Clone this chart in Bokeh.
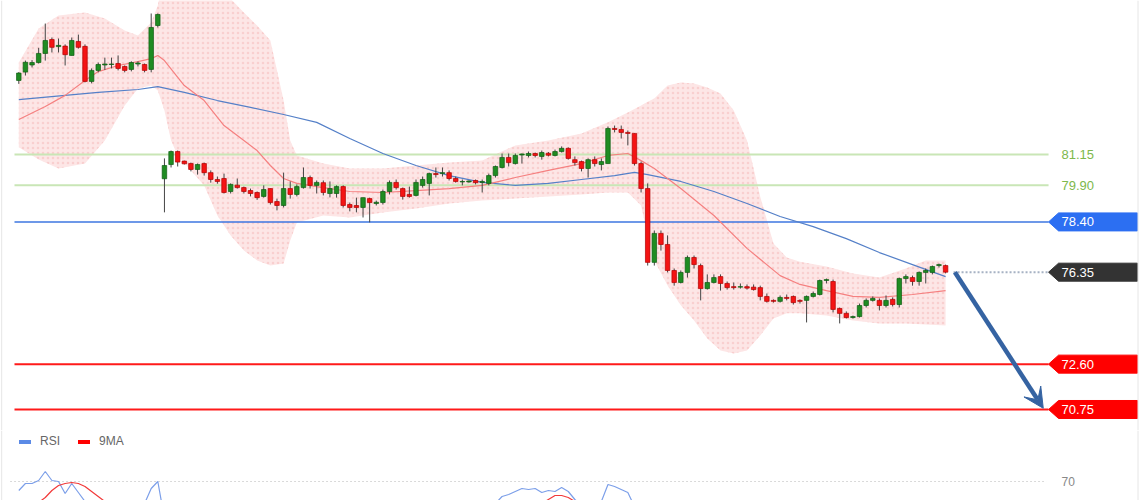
from bokeh.plotting import figure
from bokeh.layouts import column
from bokeh.models import Range1d, ColumnDataSource, Arrow, VeeHead, Legend, LegendItem, Span
from bokeh.core.properties import value
from bokeh.embed import file_html
from bokeh.resources import INLINE

# ---------------- data ----------------
opens = [84.17, 84.51, 84.80, 84.90, 85.27, 85.84, 85.55, 85.57, 85.19, 85.76,
         85.56, 84.13, 84.58, 84.80, 84.82, 84.86, 84.74, 84.62, 84.86, 84.82,
         84.62, 86.41, 80.16, 80.74, 81.27, 80.88, 80.78, 80.54, 80.78, 80.41,
         80.13, 80.17, 79.64, 79.90, 79.80, 79.68, 79.60, 79.44, 79.76, 79.23,
         79.07, 79.76, 79.52, 79.80, 80.21, 79.89, 80.00, 79.56, 79.56, 79.84,
         79.11, 79.07, 78.99, 79.35, 79.15, 79.19, 79.64, 80.01, 79.76, 79.52,
         79.48, 79.89, 79.97, 80.37, 80.37, 80.41, 80.17, 80.05, 80.05, 80.09,
         80.01, 79.97, 80.29, 80.62, 81.03, 80.78, 81.15, 81.11, 81.19, 81.07,
         81.20, 81.11, 81.27, 81.40, 80.94, 80.86, 80.58, 80.94, 80.74, 80.78,
         82.21, 82.17, 82.05, 82.01, 80.78, 79.76, 76.75, 77.93, 77.48, 76.42,
         75.93, 76.34, 76.95, 76.62, 75.68, 75.93, 76.17, 75.89, 75.76, 75.74,
         75.76, 75.74, 75.72, 75.36, 75.20, 75.16, 75.32, 75.36, 75.20, 75.20,
         75.36, 75.44, 76.01, 75.97, 74.87, 74.67, 74.50, 74.54, 74.99, 75.20,
         75.20, 74.99, 75.24, 75.03, 76.09, 76.13, 75.97, 76.34, 76.34, 76.62,
         76.62]
highs = [84.51, 84.98, 85.00, 85.50, 86.49, 85.92, 85.88, 85.64, 85.92, 86.04,
         85.64, 84.66, 84.90, 85.10, 85.10, 85.19, 84.78, 84.95, 84.95, 84.86,
         86.90, 86.90, 80.99, 81.31, 81.31, 80.90, 80.82, 80.78, 80.82, 80.50,
         80.25, 80.37, 79.97, 80.17, 79.84, 79.76, 79.64, 79.89, 79.76, 79.35,
         80.41, 80.05, 79.93, 80.62, 80.29, 80.09, 80.09, 80.05, 79.89, 79.89,
         79.19, 79.39, 79.39, 79.39, 79.27, 79.72, 80.09, 80.13, 79.80, 79.84,
         80.13, 80.25, 80.41, 80.62, 80.62, 80.50, 80.25, 80.13, 80.09, 80.13,
         80.13, 80.37, 80.70, 81.19, 81.19, 81.19, 81.19, 81.27, 81.23, 81.31,
         81.25, 81.35, 81.48, 81.44, 81.07, 80.90, 80.99, 81.07, 80.99, 82.29,
         82.33, 82.33, 82.13, 82.01, 80.86, 79.97, 78.05, 78.05, 77.85, 76.50,
         76.42, 77.03, 77.03, 76.70, 76.26, 76.26, 76.26, 75.97, 75.93, 75.89,
         75.85, 75.85, 75.80, 75.48, 75.24, 75.40, 75.44, 75.40, 75.24, 75.40,
         75.56, 76.05, 76.09, 76.05, 74.91, 74.75, 74.58, 75.07, 75.28, 75.36,
         75.28, 75.40, 75.32, 76.13, 76.26, 76.21, 76.38, 76.50, 76.62, 76.70,
         76.66]
lows = [84.03, 84.37, 84.70, 84.86, 84.98, 85.31, 85.31, 84.78, 85.19, 85.47,
        84.09, 84.05, 84.50, 84.60, 84.66, 84.58, 84.50, 84.54, 84.74, 84.50,
        84.50, 86.33, 78.79, 80.62, 80.66, 80.74, 80.46, 80.33, 80.29, 80.00,
        79.96, 79.56, 79.56, 79.76, 79.56, 79.44, 79.30, 79.39, 79.11, 78.87,
        78.99, 79.35, 79.44, 79.76, 79.76, 79.56, 79.48, 79.40, 79.39, 78.99,
        78.83, 78.79, 78.58, 78.38, 79.07, 79.11, 79.52, 79.72, 79.31, 79.39,
        79.44, 79.80, 79.48, 80.21, 80.25, 80.09, 80.00, 79.89, 80.00, 79.93,
        79.60, 79.89, 80.21, 80.58, 80.66, 80.74, 80.78, 81.03, 81.03, 80.94,
        81.07, 81.07, 81.23, 80.94, 80.70, 80.46, 80.21, 80.66, 80.50, 80.78,
        82.05, 81.80, 81.52, 80.70, 79.60, 76.62, 76.62, 77.23, 76.34, 75.80,
        75.89, 76.13, 76.50, 75.20, 75.64, 75.89, 75.60, 75.64, 75.64, 75.68,
        75.64, 75.60, 75.20, 75.11, 75.11, 75.11, 75.20, 75.03, 75.07, 74.30,
        75.32, 75.40, 75.89, 74.71, 74.26, 74.46, 74.46, 74.50, 74.91, 75.15,
        74.79, 74.91, 74.95, 74.91, 75.89, 75.80, 75.80, 75.89, 76.26, 76.54,
        76.30]
closes = [84.47, 84.91, 84.90, 85.27, 85.80, 85.52, 85.60, 85.22, 85.80, 85.52,
          84.13, 84.58, 84.82, 84.84, 84.84, 84.66, 84.58, 84.90, 84.88, 84.58,
          86.33, 86.86, 80.70, 81.27, 80.84, 80.77, 80.54, 80.74, 80.41, 80.13,
          80.05, 79.60, 79.93, 79.80, 79.64, 79.56, 79.39, 79.72, 79.19, 79.07,
          79.76, 79.52, 79.84, 80.21, 79.89, 80.01, 79.60, 79.76, 79.84, 79.07,
          78.99, 78.99, 79.39, 79.19, 79.20, 79.64, 80.01, 79.80, 79.44, 79.44,
          80.01, 80.13, 80.37, 80.33, 80.41, 80.17, 80.05, 80.05, 80.07, 80.00,
          80.05, 80.29, 80.66, 81.03, 80.82, 81.11, 81.17, 81.19, 81.11, 81.23,
          81.12, 81.27, 81.40, 80.99, 80.82, 80.58, 80.94, 80.78, 80.86, 82.21,
          82.17, 82.05, 82.01, 80.78, 79.76, 76.75, 77.93, 77.48, 76.42, 75.93,
          76.34, 76.95, 76.66, 75.68, 75.93, 76.13, 75.89, 75.72, 75.72, 75.76,
          75.70, 75.64, 75.36, 75.16, 75.18, 75.32, 75.30, 75.11, 75.16, 75.36,
          75.48, 76.01, 76.05, 74.83, 74.67, 74.50, 74.54, 74.99, 75.20, 75.28,
          74.99, 75.20, 75.03, 76.09, 76.17, 75.97, 76.34, 76.42, 76.58, 76.66,
          76.35]

band_i = [0, 3, 6, 10, 13, 16, 18, 20, 21, 22, 23, 24, 26, 28, 30, 32, 34, 36, 38, 40,
          41, 42, 46, 50, 55, 60, 65, 70, 75, 80, 85, 89, 92, 94, 95, 96, 98, 100, 102,
          104, 106, 108, 110, 112, 114, 116, 118, 122, 126, 130, 134, 137, 140]
band_upper = [84.90, 86.29, 86.82, 86.94, 86.70, 86.21, 86.00, 86.53, 87.23, 88.60,
              89.20, 89.60, 90.00, 89.80, 89.00, 87.50, 86.94, 86.41, 85.80, 83.35,
              81.72, 81.11, 80.78, 80.58, 80.58, 80.70, 80.82, 80.90, 81.52, 81.72,
              82.01, 82.46, 82.86, 83.15, 83.30, 83.43, 83.96, 84.09, 84.05,
              83.88, 83.64, 82.94, 81.72, 79.43, 77.52, 76.95, 76.78, 76.58, 76.30,
              76.13, 76.50, 76.83, 76.83]
band_lower = [81.44, 80.95, 80.58, 80.78, 81.72, 83.15, 83.84, 83.96, 83.76, 82.94,
              81.72, 81.11, 80.50, 79.89, 78.66, 77.85, 77.23, 76.83, 76.62, 76.70,
              77.64, 78.38, 78.66, 78.58, 78.78, 78.95, 79.15, 79.27, 79.35, 79.44,
              79.52, 79.60, 79.60, 79.07, 77.85, 76.83, 75.81, 75.00, 74.38,
              73.65, 73.16, 73.03, 73.16, 73.77, 74.46, 74.67, 74.67, 74.58, 74.38,
              74.26, 74.26, 74.22, 74.18]

ma20_i = [0, 4, 7, 10, 12, 15, 18, 20, 21, 22, 25, 28, 31, 34, 36, 38, 40, 42, 45, 50,
          55, 60, 65, 70, 75, 80, 85, 89, 92, 94, 96, 100, 105, 110, 115, 118, 122, 126,
          130, 135, 140]
ma20_v = [82.58, 83.11, 83.56, 84.17, 84.53, 84.78, 84.94, 85.06, 85.19, 84.98, 83.96,
          83.35, 82.33, 81.72, 81.31, 80.70, 80.17, 79.97, 79.84, 79.64, 79.60, 79.68,
          79.76, 79.89, 80.21, 80.50, 80.78, 81.11, 81.19, 80.90, 80.58, 79.76, 78.66,
          77.32, 76.21, 75.85, 75.60, 75.36, 75.32, 75.44, 75.60]

ma100_i = [0, 7, 12, 18, 21, 25, 30, 35, 40, 45, 50, 55, 60, 65, 70, 75, 80, 85, 90,
           93, 95, 100, 105, 110, 115, 120, 125, 130, 135, 140]
ma100_v = [83.39, 83.56, 83.68, 83.80, 83.92, 83.68, 83.35, 83.07, 82.78, 82.46, 81.80,
           81.19, 80.70, 80.29, 80.01, 79.89, 79.97, 80.13, 80.29, 80.42, 80.33, 80.05,
           79.64, 79.15, 78.62, 78.21, 77.72, 77.15, 76.66, 76.17]

green_levels = [81.15, 79.90]
blue_level = 78.40
current_level = 76.35
red_levels = [72.60, 70.75]
target_level = 70.75

rsi_i = [0, 1, 2, 3, 4, 5, 6, 7, 8, 9, 10, 11, 18, 19, 20, 21, 22, 40, 70, 72, 73, 74,
         75, 76, 77, 78, 79, 80, 81, 82, 83, 84, 85, 87, 88, 89, 90, 91, 92, 93, 94,
         110, 140]
rsi_v = [61, 68, 68, 71, 80, 71, 70, 58, 68, 59, 50, 42, 45, 48, 63, 70, 33, 45, 50, 48,
         55, 57, 60, 63, 62, 63, 59, 61, 60, 64, 60, 52, 46, 48, 50, 67, 65, 62, 59, 45,
         30, 40, 46]
rsi9_i = [0, 2, 3, 4, 5, 6, 7, 8, 9, 10, 11, 12, 13, 22, 45, 70, 78, 79, 80, 81, 82, 83,
          84, 85, 100, 140]
rsi9_v = [42, 46, 49, 54, 61, 66, 68, 69, 68, 65, 60, 55, 50, 45, 42, 47, 45, 48, 52, 56,
          56, 54, 50, 47, 40, 44]
rsi_level = 70

# ---------------- geometry ----------------
W = 1140
H1, H2 = 430, 70
X0, X1 = -2.764, 169.44
Y0, Y1 = 69.893, 87.43
PX = W / (X1 - X0)          # px per bar
PY = H1 / (Y1 - Y0)         # px per price unit
LINE_START = -0.65
LINE_END = 155.55
TAG_NOTCH = LINE_END + 10 / PX
TAG_RIGHT = LINE_END + 89 / PX
TEXT_X = LINE_END + 13 / PX
EDGE_L = X0 + 1.2 / PX
EDGE_R = X0 + 1137.5 / PX
FONT = "Liberation Sans"

x_range = Range1d(X0, X1)
p = figure(width=W, height=H1, x_range=x_range, y_range=Range1d(Y0, Y1),
           toolbar_location=None, output_backend="svg", min_border=0,
           x_axis_location=None, y_axis_location=None)
p.grid.visible = False
p.outline_line_color = None
p.background_fill_color = "#ffffff"
p.border_fill_color = "#ffffff"

# bollinger band
p.varea(x=band_i, y1=band_lower, y2=band_upper, fill_color="#fde6e6", fill_alpha=1.0,
        hatch_pattern="dot", hatch_color="#f4b4b4", hatch_scale=5, hatch_alpha=0.45)

# level lines
for lv in green_levels:
    p.segment(x0=[LINE_START], x1=[LINE_END], y0=[lv], y1=[lv], line_color="#c9e6b6", line_width=2)
    p.text(x=[TEXT_X], y=[lv], text=[f"{lv:.2f}"], text_color="#7db84c",
           text_font=value(FONT), text_font_size="13px", text_baseline="middle")
p.segment(x0=[LINE_START], x1=[LINE_END], y0=[blue_level], y1=[blue_level],
          line_color="#3c76e0", line_width=1.5)
for lv in red_levels:
    p.segment(x0=[LINE_START], x1=[LINE_END], y0=[lv], y1=[lv], line_color="#ff1a1a", line_width=2)

# moving averages
p.line(ma100_i, ma100_v, line_color="#5580c8", line_width=1.2)
p.line(ma20_i, ma20_v, line_color="#f58080", line_width=1.2)

# candles
n = len(closes)
idx = list(range(n))
up = [c >= o for o, c in zip(opens, closes)]
src = ColumnDataSource(dict(
    x=idx, o=opens, h=highs, l=lows, c=closes,
    top=[max(o, c) for o, c in zip(opens, closes)],
    bot=[min(o, c) if abs(c - o) > 0.02 else min(o, c) - 0.02 for o, c in zip(opens, closes)],
    fill=["#1f8c22" if u else "#f41414" for u in up],
    edge=["#0f5c12" if u else "#b00000" for u in up],
))
p.segment(x0="x", x1="x", y0="h", y1="l", source=src, line_color="#444444", line_width=1)
p.vbar(x="x", width=0.68, top="top", bottom="bot", source=src,
       fill_color="fill", line_color="edge", line_width=0.7)

# current price dotted line
p.segment(x0=[n + 0.2], x1=[LINE_END], y0=[current_level], y1=[current_level],
          line_color="#a7b2c4", line_width=2, line_dash="2 2")

# tags
def tag(level, color):
    h = 9 / PY
    p.patch(x=[LINE_END, TAG_NOTCH, TAG_RIGHT, TAG_RIGHT, TAG_NOTCH],
            y=[level, level + h, level + h, level - h, level - h],
            fill_color=color, line_color=color)
    p.text(x=[TEXT_X], y=[level], text=[f"{level:.2f}"], text_color="#ffffff",
           text_font=value(FONT), text_font_size="13px", text_baseline="middle")

tag(blue_level, "#2c6ff2")
tag(current_level, "#333333")
for lv in red_levels:
    tag(lv, "#ff0000")

# projection arrow
p.add_layout(Arrow(x_start=n + 0.4, y_start=closes[-1], x_end=LINE_END - 0.8,
                   y_end=target_level + 0.05, line_color="#3563a2", line_width=4.5,
                   end=VeeHead(size=20, fill_color="#3563a2", line_color="#3563a2")))

# ---------------- RSI panel ----------------
p2 = figure(width=W, height=H2, x_range=x_range, y_range=Range1d(51, 121),
            toolbar_location=None, output_backend="svg", min_border=0,
            x_axis_location=None, y_axis_location=None)
p2.grid.visible = False
p2.outline_line_color = None
p2.background_fill_color = "#ffffff"
p2.border_fill_color = "#ffffff"

p2.segment(x0=[-1.25], x1=[LINE_END - 0.3], y0=[rsi_level], y1=[rsi_level],
           line_color="#b5b5b5", line_width=1, line_dash="1 3")
p2.text(x=[TEXT_X], y=[rsi_level], text=[str(rsi_level)], text_color="#888888",
        text_font=value(FONT), text_font_size="12px", text_baseline="middle")
p2.line(rsi_i, rsi_v, line_color="#7c9fe9", line_width=1.2)
p2.line(rsi9_i, rsi9_v, line_color="#f23a3a", line_width=1.2)

# legend swatches (placed outside the visible range; only their legend glyphs show)
r1 = p2.quad(left=[-60], right=[-59], top=[200], bottom=[199],
             fill_color="#5b8ae6", line_color=None)
r2 = p2.quad(left=[-60], right=[-59], top=[200], bottom=[199],
             fill_color="#ff0000", line_color=None)
legend = Legend(items=[LegendItem(label="RSI", renderers=[r1]),
                       LegendItem(label="9MA", renderers=[r2])],
                orientation="horizontal", location=(17, 52), glyph_width=15, glyph_height=5,
                label_height=12, label_text_font_size="12px", label_text_color="#666666",
                label_text_font=FONT, padding=0, margin=0, spacing=16, label_standoff=8,
                border_line_color=None, background_fill_alpha=0)
p2.add_layout(legend)

# faint container edges
for fig in (p, p2):
    fig.add_layout(Span(location=EDGE_L, dimension="height", line_color="#e6e6e6", line_width=1))
    fig.add_layout(Span(location=EDGE_R, dimension="height", line_color="#e6e6e6", line_width=1))

layout = column(p, p2, spacing=0)
open("out.html", "w").write(file_html(layout, INLINE))
